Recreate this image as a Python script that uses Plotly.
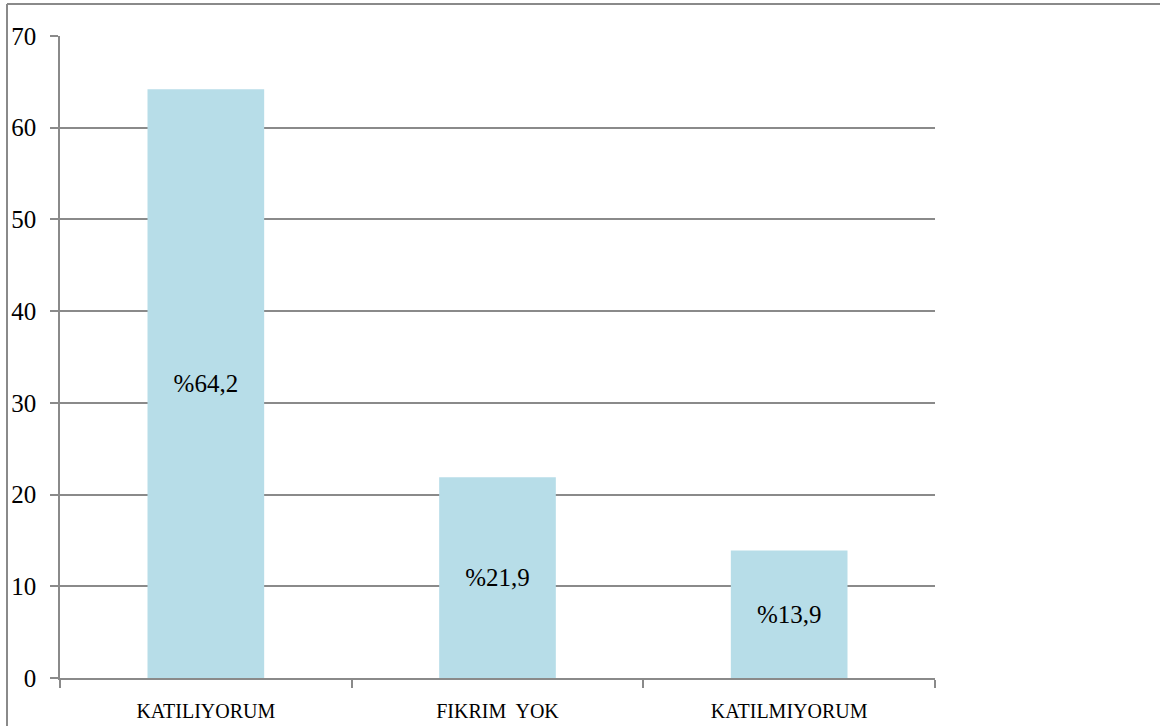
import plotly.graph_objects as go

categories = ["KATILIYORUM", "FIKRIM  YOK", "KATILMIYORUM"]
values = [64.2, 21.9, 13.9]
labels = ["%64,2", "%21,9", "%13,9"]

grid_color = "#8a8a8a"
font_family = "Liberation Serif"

fig = go.Figure(
    go.Bar(
        x=categories,
        y=values,
        text=labels,
        textposition="inside",
        insidetextanchor="middle",
        textangle=0,
        textfont=dict(family=font_family, size=25, color="#000000"),
        marker=dict(color="#b7dde8", line=dict(width=0)),
        hoverinfo="skip",
    )
)

fig.update_layout(
    width=1160,
    height=726,
    margin=dict(l=60, r=225, t=36, b=48),
    paper_bgcolor="white",
    plot_bgcolor="white",
    bargap=0.6,
    showlegend=False,
    font=dict(family=font_family, color="#000000"),
    xaxis=dict(
        type="category",
        automargin=False,
        showgrid=False,
        showline=True,
        linecolor=grid_color,
        linewidth=1.5,
        ticks="outside",
        tickson="boundaries",
        ticklen=8,
        tickcolor=grid_color,
        tickwidth=1.5,
        ticklabelstandoff=14,
        tickfont=dict(family=font_family, size=20, color="#000000"),
        zeroline=False,
    ),
    yaxis=dict(
        range=[0, 70],
        automargin=False,
        tickvals=[0, 10, 20, 30, 40, 50, 60, 70],
        showgrid=True,
        gridcolor=grid_color,
        gridwidth=1.5,
        showline=True,
        linecolor=grid_color,
        linewidth=1.5,
        ticks="outside",
        ticklen=8,
        tickcolor=grid_color,
        tickwidth=1.5,
        ticklabelstandoff=9,
        tickfont=dict(family=font_family, size=25, color="#000000"),
        zeroline=False,
    ),
    shapes=[
        dict(type="line", xref="paper", yref="paper",
             x0=-53 / 875, x1=1200 / 875, y0=(678 - 4) / 642, y1=(678 - 4) / 642,
             line=dict(color=grid_color, width=2)),
        dict(type="line", xref="paper", yref="paper",
             x0=-53 / 875, x1=-53 / 875, y0=(678 - 4) / 642, y1=-100 / 642,
             line=dict(color=grid_color, width=2)),
    ],
)

fig.write_html("out.html")
